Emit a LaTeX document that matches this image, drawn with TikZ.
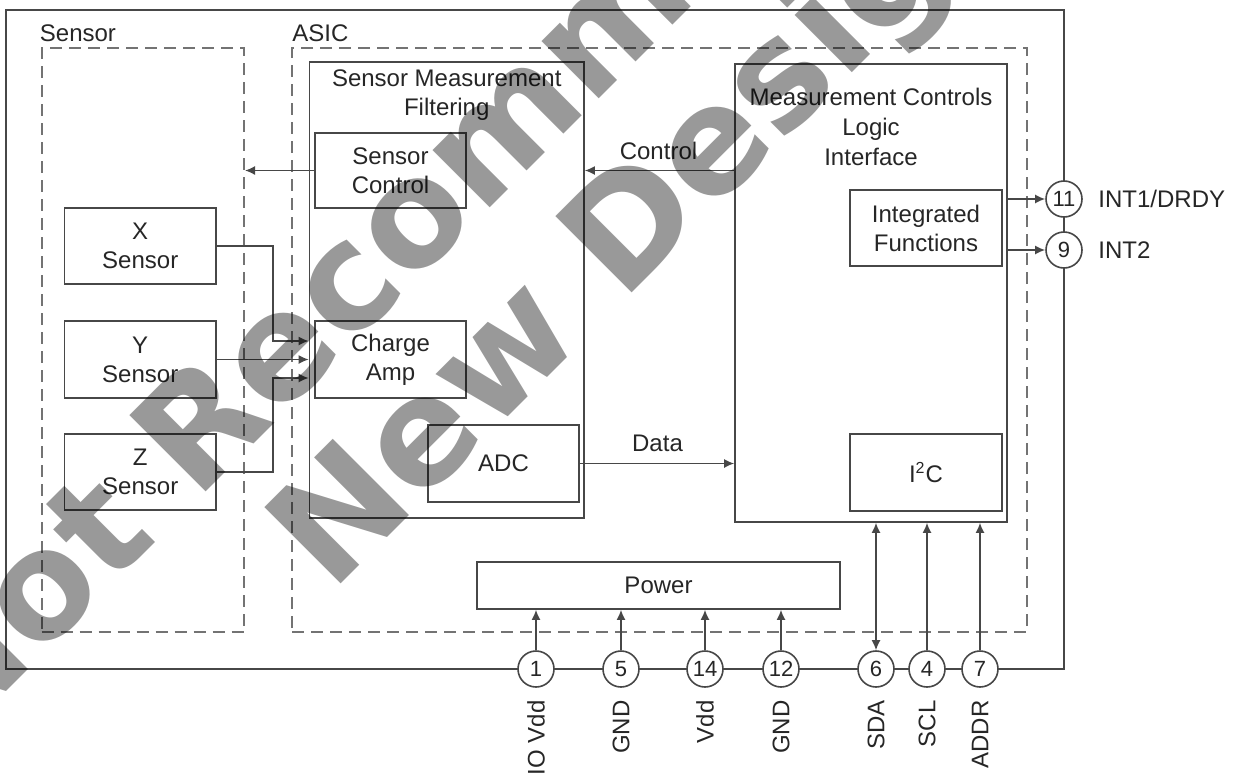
\documentclass[tikz,border=0pt]{standalone}
\usepackage{fontspec}
\setmainfont{Liberation Sans}
\newfontfamily\wmfont{DejaVu Sans}
\usetikzlibrary{arrows.meta,calc}
\begin{document}
\begin{tikzpicture}[x=0.5pt,y=-0.5pt,
  font=\fontsize{12}{14.5}\selectfont,
  ln/.style={draw=black!72, line width=0.8pt},
  box/.style={ln, rectangle, inner sep=0pt, align=center, text=black!85},
  dbox/.style={draw=black!55, line width=1pt, dash pattern=on 6pt off 3.5pt, inner sep=0pt},
  arr/.style={ln, -{Latex[length=5pt,width=4.5pt]}},
  darr/.style={ln, {Latex[length=5pt,width=4.5pt]}-{Latex[length=5pt,width=4.5pt]}},
  pin/.style={ln, circle, fill=white, minimum size=18pt, inner sep=0pt, font=\fontsize{11}{13}\selectfont, text=black!85},
  lbl/.style={inner sep=0pt, text=black!85},
  plbl/.style={lbl, rotate=90, anchor=east},
  wm/.style={inner sep=0pt, rotate=45, anchor=base west, text=black, text opacity=0.4, font=\wmfont\bfseries\fontsize{74}{74}\selectfont}
]
\useasboundingbox (0,0) rectangle (1240,776);
% frames
\node[box, minimum width=529pt, minimum height=329.5pt] (outer) at (535,339.5) {};
\node[dbox, minimum width=101.25pt, minimum height=292pt] (sdash) at (142.75,340) {};
\node[dbox, minimum width=367.5pt, minimum height=292pt] (adash) at (659.5,340) {};
\node[lbl, anchor=base west] (sensorlbl) at (39.5,41) {Sensor};
\node[lbl, anchor=base west] (asiclbl) at (292,41) {ASIC};
% sensor measurement filtering
\node[box, minimum width=137.25pt, minimum height=228pt] (smf) at (446.75,290) {};
\node[lbl, align=center] (smft) at (446.75,95) {Sensor Measurement\\Filtering};
\node[box, minimum width=75.5pt, minimum height=37.5pt] (sctl) at (390.5,170.5) {Sensor\\Control};
\node[box, minimum width=75.5pt, minimum height=38.5pt] (chg) at (390.5,359.5) {Charge\\Amp};
\node[box, minimum width=75.5pt, minimum height=38.5pt] (adc) at (503.5,463.5) {ADC};
% sensors
\node[box, minimum width=75.75pt, minimum height=38pt] (xs) at (140.25,246) {X\\Sensor};
\node[box, minimum width=75.75pt, minimum height=38.5pt] (ys) at (140.25,359.5) {Y\\Sensor};
\node[box, minimum width=75.75pt, minimum height=38pt] (zs) at (140.25,472) {Z\\Sensor};
% measurement controls
\node[box, minimum width=136pt, minimum height=229pt] (mc) at (871,293) {};
\node[lbl, align=center, font=\fontsize{12}{15}\selectfont] (mct) at (871,127) {Measurement Controls\\Logic\\Interface};
\node[box, minimum width=76pt, minimum height=38pt] (ifn) at (926,228) {Integrated\\Functions};
\node[box, minimum width=76pt, minimum height=38.5pt] (i2c) at (926,472.5) {I\textsuperscript{2}C};
% power
\node[box, minimum width=181.5pt, minimum height=23.5pt] (pwr) at (658.5,585.5) {Power};
% pins
\node[pin] (p11) at (1064,199) {11};
\node[pin] (p9) at (1064,250) {9};
\node[pin] (p1) at (536,669) {1};
\node[pin] (p5) at (621,669) {5};
\node[pin] (p14) at (705,669) {14};
\node[pin] (p12) at (781,669) {12};
\node[pin] (p6) at (876,669) {6};
\node[pin] (p4) at (927,669) {4};
\node[pin] (p7) at (980,669) {7};
\node[lbl, anchor=west] (lint1) at (1098,199) {INT1/DRDY};
\node[lbl, anchor=west] (lint2) at (1098,250) {INT2};
\node[plbl] (l1) at (536,700) {IO Vdd};
\node[plbl] (l5) at (621,700) {GND};
\node[plbl] (l14) at (705,700) {Vdd};
\node[plbl] (l12) at (781,700) {GND};
\node[plbl] (l6) at (876,700) {SDA};
\node[plbl] (l4) at (927,700) {SCL};
\node[plbl] (l7) at (980,700) {ADDR};
% connectors
\draw[arr] (sctl.west) -- (sctl.west -| sdash.east);
\draw[arr] (mc.west |- sctl.west) -- (smf.east |- sctl.west);
\node[lbl] (ctl) at (658.5,151) {Control};
\draw[arr] (adc.east) -- (adc.east -| mc.west);
\node[lbl] (data) at (657.5,443) {Data};
\coordinate (bx) at (273,341);
\coordinate (bz) at (273,378);
\draw[arr] (xs.east) -| (bx) -- (bx -| smf.west);
\draw[arr] (ys.east) -- (ys.east -| smf.west);
\draw[arr] (zs.east) -| (bz) -- (bz -| smf.west);
\draw[arr] (mc.east |- p11) -- (p11.west);
\draw[arr] (mc.east |- p9) -- (p9.west);
\foreach \p in {p1,p5,p14,p12} \draw[arr] (\p.north) -- (\p |- pwr.south);
\draw[darr] (p6.north) -- (p6 |- mc.south);
\draw[arr] (p4.north) -- (p4 |- mc.south);
\draw[arr] (p7.north) -- (p7 |- mc.south);
% watermark
\node[wm] (wm1) at (-50,748) {Not Recommended for};
\node[wm] (wm2) at (331,594) {New Designs};
\end{tikzpicture}
\end{document}
